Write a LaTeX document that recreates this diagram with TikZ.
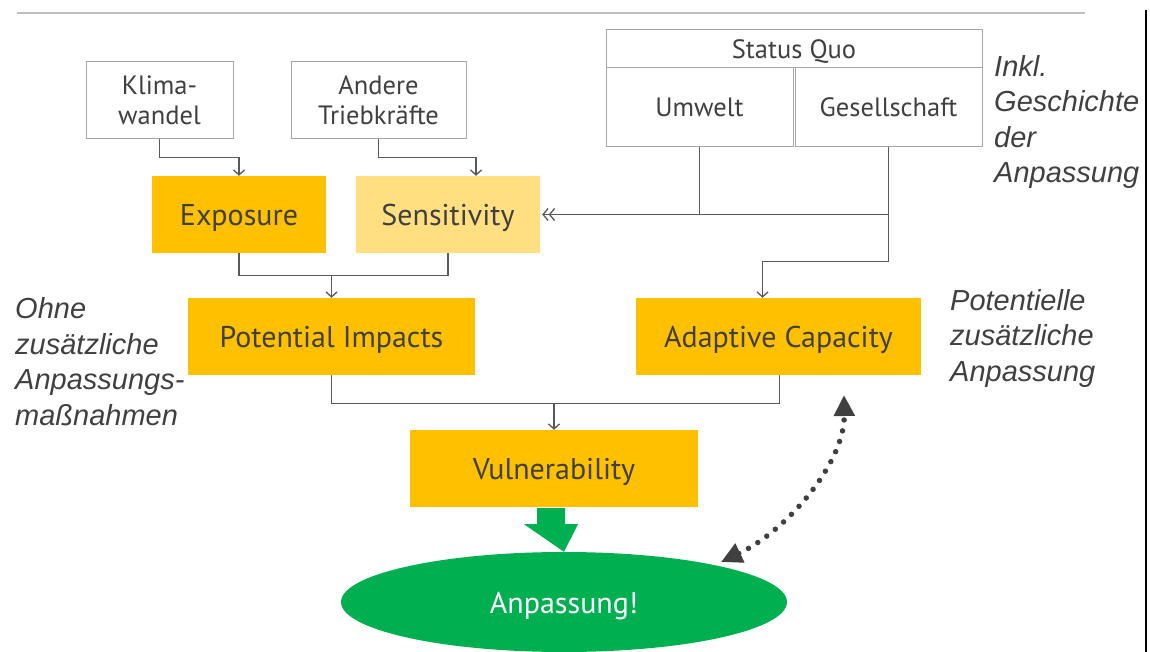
\documentclass[tikz,border=0pt]{standalone}
\usepackage{fontspec}
\setmainfont{PT Sans}
\newfontfamily\sidefont{Liberation Sans}
\usetikzlibrary{arrows.meta,calc,shapes.geometric}
\definecolor{txt}{HTML}{404040}
\definecolor{gold}{HTML}{FFC000}
\definecolor{lightgold}{HTML}{FFDF80}
\definecolor{boxline}{HTML}{A6A6A6}
\definecolor{conncol}{HTML}{595959}
\definecolor{grn}{HTML}{00B050}
\definecolor{dotcol}{HTML}{404040}
\definecolor{rulecol}{HTML}{BFBFBF}
\begin{document}
\begin{tikzpicture}[x=1pt,y=-1pt,
  whitebox/.style={draw=boxline, line width=1pt, fill=white, text=txt, align=center, inner sep=0pt, font=\fontsize{26.5}{30}\selectfont},
  oneline/.style={text height=19pt, text depth=0pt},
  goldbox/.style={fill=gold, text=txt, inner sep=0pt, minimum height=77pt, text height=23pt, text depth=1pt, font=\fontsize{30}{34}\selectfont},
  conn/.style={draw=conncol, line width=1.3pt},
  arr/.style={-{Straight Barb[length=5pt,width=11pt,line width=1.3pt]}},
  dblarr/.style={-{Straight Barb[length=5pt,width=12pt,line width=1.3pt]Straight Barb[length=5pt,width=12pt,line width=1.3pt]}},
  side/.style={text=txt, align=left, inner sep=0pt, anchor=base west, font=\sidefont\itshape\fontsize{29}{35.5}\selectfont},
  dotarrow/.style={draw=dotcol, line width=5.5pt, line cap=round, dash pattern=on 0pt off 11pt,
     {Triangle[length=21pt,width=20pt]}-{Triangle[length=21pt,width=20pt]}}
]
\useasboundingbox (0,0) rectangle (1150,652);
% frame lines
\draw[rulecol, line width=2pt] (17,13) -- (1085,13);
\draw[black, line width=1.5pt] (1146,10) -- (1146,652);

% input boxes
\node[whitebox, minimum width=147pt, minimum height=77pt] (klima) at (159.5,100.5) {Klima-\\wandel};
\node[whitebox, minimum width=175pt, minimum height=77pt] (andere) at (378.5,100.5) {Andere\\Triebkräfte};
\node[whitebox, oneline, minimum width=376pt, minimum height=38pt] (sq) at (794,49) {Status Quo};
\node[whitebox, oneline, minimum width=187pt, minimum height=79pt] (umwelt) at (699.5,107.5) {Umwelt};
\node[whitebox, oneline, minimum width=187pt, minimum height=79pt] (ges) at (888.5,107.5) {Gesellschaft};

% gold boxes
\node[goldbox, minimum width=174pt] (expo) at (239,214.5) {Exposure};
\node[goldbox, fill=lightgold, minimum width=184pt] (sens) at (448,214.5) {Sensitivity};
\node[goldbox, minimum width=287pt] (pot) at (331.5,336.5) {Potential Impacts};
\node[goldbox, minimum width=285pt] (adapt) at (778.5,336.5) {Adaptive Capacity};
\node[goldbox, minimum width=288pt] (vul) at (554,468.5) {Vulnerability};

% ellipse
\node[ellipse, fill=grn, text=white, minimum width=446pt, minimum height=100pt, inner sep=0pt,
      text height=23pt, text depth=1pt, font=\fontsize{30}{34}\selectfont] (anp) at (564,602) {Anpassung!};

% side texts (anchored at the baseline of the last line)
\node[side] (inkl) at (994,183) {Inkl.\\Geschichte\\der\\Anpassung};
\node[side] (ohne) at (15,425) {Ohne\\zusätzliche\\Anpassungs-\\maßnahmen};
\node[side] (potz) at (950,381) {Potentielle\\zusätzliche\\Anpassung};

% connectors
\draw[conn,arr] (klima.south) -- ++(0,18) -| (expo.north);
\draw[conn,arr] (andere.south) -- ++(0,18) -| ([xshift=28pt]sens.north);
\draw[conn] (umwelt.south) -- (umwelt.south |- sens.east);
\draw[conn,dblarr] (ges.south) |- ([xshift=2pt]sens.east);
\coordinate (g1) at (ges.south |- sens.east);
\draw[conn,arr] (g1) -- ++(0,47) -| ([xshift=-16pt]adapt.north);

\coordinate (j1) at ($(expo.south)+(0,22)$);
\draw[conn] (expo.south) -- (j1) -| (sens.south);
\draw[conn,arr] (pot.north |- j1) -- (pot.north);

\coordinate (j2) at ($(pot.south)+(0,28)$);
\draw[conn] (pot.south) -- (j2) -| ([xshift=1pt]adapt.south);
\draw[conn,arr] (vul.north |- j2) -- (vul.north);

% green block arrow
\coordinate (ga) at ($(vul.south)+(-3,1)$);
\fill[grn] ($(ga)+(-14,0)$) -- ($(ga)+(14,0)$) -- ($(ga)+(14,16)$) -- ($(ga)+(27,16)$)
  -- (anp.north) -- ($(ga)+(-27,16)$) -- ($(ga)+(-14,16)$) -- cycle;

% dotted double arrow
\coordinate (dA) at (721,562);
\coordinate (dB) at (844,395);
\draw[dotarrow] (dA) .. controls (788,530) and (845,462) .. (dB);
\end{tikzpicture}
\end{document}
